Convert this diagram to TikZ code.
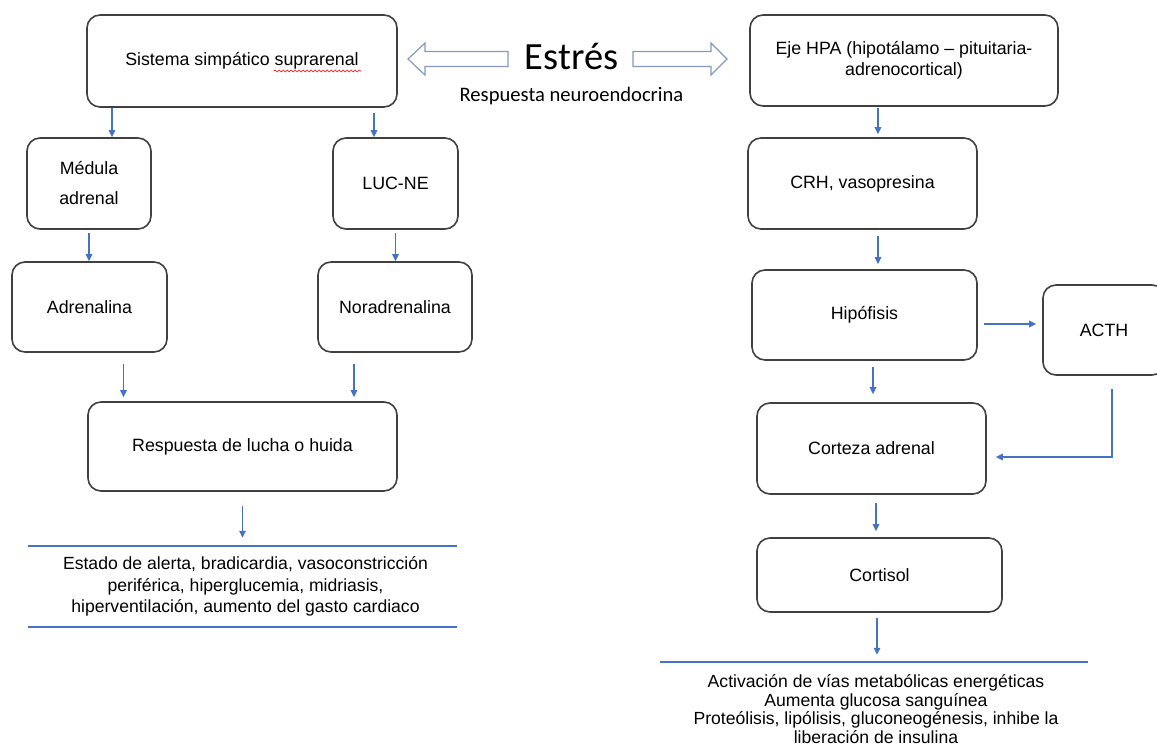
\documentclass[tikz,border=0pt]{standalone}
\usepackage{fontspec}
\setmainfont{Liberation Sans}
\newfontfamily\calibrifont{Carlito}
\usetikzlibrary{arrows.meta,decorations.pathmorphing}
\definecolor{flowblue}{HTML}{4472C4}
\definecolor{boxgray}{HTML}{404040}
\definecolor{hollowblue}{HTML}{8497C8}
\tikzset{
  stagebox/.style={draw=boxgray, line width=1.6pt, rounded corners=13pt, align=center,
    inner sep=0pt, font=\fontsize{17.8}{21}\selectfont},
  flow/.style={color=flowblue, line width=1.5pt, -{Triangle[length=7pt,width=6.5pt]}},
  rulebar/.style={color=flowblue, line width=1.8pt},
  hollow/.style={draw=hollowblue, line width=1.2pt, fill=white, line join=miter},
  spellmark/.style={draw=red, line width=0.6pt, decorate,
    decoration={snake, amplitude=1pt, segment length=4pt}},
  effectblock/.style={align=center, inner sep=0pt, font=\fontsize{17.6}{21.5}\selectfont},
}
\begin{document}
\begin{tikzpicture}[x=1pt,y=-1pt]
\useasboundingbox (0,0) rectangle (1157,755);
% Drawing the centre: stress and the two hollow arrows
\node[anchor=base, font=\calibrifont\fontsize{38.5}{40}\selectfont] (estres) at (571.5,69) {Estrés};
\node[anchor=base, font=\calibrifont\fontsize{20.6}{24}\selectfont] (neuro) at (571.5,101) {Respuesta neuroendocrina};
\draw[hollow] (508,51.5) -- (425,51.5) -- (425,43) -- (408,59) -- (425,75) -- (425,66.5) -- (508,66.5) -- cycle;
\draw[hollow] (633,51.5) -- (711,51.5) -- (711,43) -- (727,59) -- (711,75) -- (711,66.5) -- (633,66.5) -- cycle;
% Left column: sympathetic system
\node[stagebox, minimum width=310pt, minimum height=92pt] (simp) at (242,61) {Sistema simpático suprarenal};
\draw[spellmark] ([xshift=32pt,yshift=-10pt]simp.center) -- ([xshift=119pt,yshift=-10pt]simp.center);
\node[stagebox, minimum width=124pt, minimum height=91pt] (medula) at (89,183.5) {Médula\\[9pt]adrenal};
\node[stagebox, minimum width=125pt, minimum height=91pt] (lucne) at (395.5,183.5) {LUC-NE};
\node[stagebox, minimum width=155pt, minimum height=90pt] (adren) at (89.5,307) {Adrenalina};
\node[stagebox, minimum width=154pt, minimum height=90pt] (noradren) at (395,307) {Noradrenalina};
\node[stagebox, minimum width=309pt, minimum height=89pt] (lucha) at (242.5,446.5) {Respuesta de lucha o huida};
\node[effectblock, minimum width=429pt, minimum height=81pt] (efectos) at (242.5,586.5)
  {\hspace*{6pt}Estado de alerta, bradicardia, vasoconstricción\\
   \hspace*{6pt}periférica, hiperglucemia, midriasis,\\
   \hspace*{6pt}hiperventilación, aumento del gasto cardiaco};
\draw[rulebar] (efectos.north west) -- (efectos.north east);
\draw[rulebar] (efectos.south west) -- (efectos.south east);
% Left column connectors
\draw[flow] ([xshift=-130pt]simp.south) -- ([xshift=-130pt]simp.south |- medula.north);
\draw[flow] ([xshift=132pt,yshift=-5pt]simp.south) -- ([xshift=132pt]simp.south |- lucne.north);
\draw[flow] ([yshift=-3pt]medula.south) -- (medula.south |- adren.north);
\draw[flow] ([yshift=-3pt]lucne.south) -- (lucne.south |- noradren.north);
\draw[flow, shorten >=4pt] ([xshift=34pt,yshift=-11pt]adren.south) -- ([xshift=34pt]adren.south |- lucha.north);
\draw[flow, shorten >=4pt] ([xshift=-41pt,yshift=-11pt]noradren.south) -- ([xshift=-41pt]noradren.south |- lucha.north);
\draw[flow, shorten >=8pt] ([yshift=-14pt]lucha.south) -- (lucha.south |- efectos.north);
% Right column: HPA axis
\node[stagebox, minimum width=308pt, minimum height=91pt] (hpa) at (904,60.5) {Eje HPA (hipotálamo -- pituitaria-\\adrenocortical)};
\node[stagebox, minimum width=229pt, minimum height=91pt] (crh) at (862.5,183.5) {CRH, vasopresina};
\node[stagebox, minimum width=225pt, minimum height=90pt] (hipo) at (864.5,315) {Hipófisis};
\node[stagebox, minimum width=122pt, minimum height=90pt] (acth) at (1104,330) {ACTH};
\node[stagebox, minimum width=229pt, minimum height=91pt] (corteza) at (871.5,448.5) {Corteza adrenal};
\node[stagebox, minimum width=245pt, minimum height=74pt] (cortisol) at (879.5,575) {Cortisol};
\node[effectblock, minimum width=428pt, minimum height=94pt, font=\fontsize{17.6}{18.6}\selectfont] (metab) at (874,709)
  {\hspace*{4pt}Activación de vías metabólicas energéticas\\
   \hspace*{4pt}Aumenta glucosa sanguínea\\
   \hspace*{4pt}Proteólisis, lipólisis, gluconeogénesis, inhibe la\\
   \hspace*{4pt}liberación de insulina};
\draw[rulebar] (metab.north west) -- (metab.north east);
% Right column connectors
\draw[flow, shorten >=3pt] ([xshift=-26pt,yshift=-1pt]hpa.south) -- ([xshift=-26pt]hpa.south |- crh.north);
\draw[flow, shorten >=5pt] ([xshift=15.5pt,yshift=-6pt]crh.south) -- ([xshift=15.5pt]crh.south |- hipo.north);
\draw[flow, shorten >=6pt] ([xshift=6pt,yshift=-9pt]hipo.east) -- ([yshift=-9pt]hipo.east -| acth.west);
\draw[flow, shorten >=8pt] ([xshift=8.5pt,yshift=-6pt]hipo.south) -- ([xshift=8.5pt]hipo.south |- corteza.north);
\draw[flow, shorten >=9pt] ([xshift=8pt,yshift=-13pt]acth.south) |- ([yshift=-8.5pt]corteza.east);
\draw[flow, shorten >=6pt] ([xshift=4.5pt,yshift=-8pt]corteza.south) -- ([xshift=4.5pt]corteza.south |- cortisol.north);
\draw[flow, shorten >=7pt] ([xshift=-2.5pt,yshift=-5pt]cortisol.south) -- ([xshift=-2.5pt]cortisol.south |- metab.north);
\end{tikzpicture}
\end{document}
